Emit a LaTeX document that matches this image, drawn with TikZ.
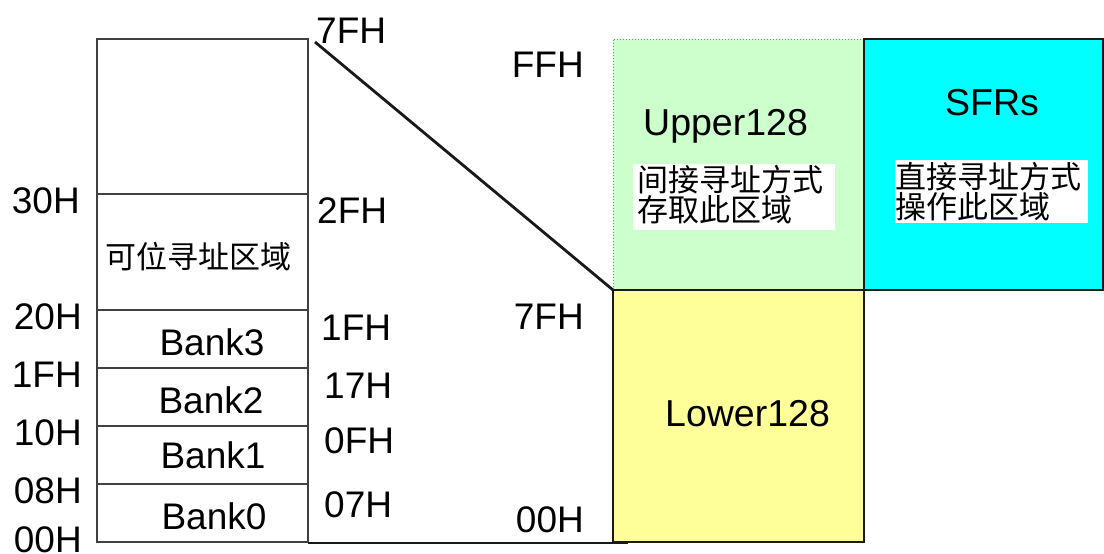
\documentclass[tikz,border=0pt]{standalone}
\usepackage{fontspec}
\setmainfont{Liberation Sans}
\newfontfamily\cjk{Noto Sans CJK SC}
\definecolor{upgreen}{RGB}{204,255,204}
\definecolor{lowyellow}{RGB}{255,255,153}
\definecolor{sfrcyan}{RGB}{0,255,255}
\begin{document}
\begin{tikzpicture}[x=1pt,y=-1pt,
  lbl/.style={font=\fontsize{37}{37}\selectfont, inner sep=0pt},
  big/.style={font=\fontsize{37.5}{37.5}\selectfont, inner sep=0pt},
  cjktxt/.style={font=\cjk\fontsize{31}{30}\selectfont, inner sep=0pt},
  edge/.style={line width=2.8pt, black!90},
  thin/.style={line width=2.3pt, black!75}]
\useasboundingbox (0,0) rectangle (1104,554);
% colored blocks
\fill[upgreen] (613,39) rectangle (864,290);
\fill[lowyellow] (613,290) rectangle (864,542);
\fill[sfrcyan] (864,39) rectangle (1103,290);
\fill[white] (633,164) rectangle (835,230);
\fill[white] (895,160) rectangle (1088,223);
\draw[gray, line width=1pt, dotted] (613,290) -- (613,39) -- (864,39);
\draw[edge] (613,290) rectangle (864,542);
\draw[edge] (864,290) -- (864,39) -- (1103,39) -- (1103,290) -- cycle;
% left box
\draw[thin] (97,39) rectangle (308,542);
\foreach \yy in {194,310,368,426,484} \draw[thin] (97,\yy) -- (308,\yy);
\coordinate (bl) at (308,543);
\coordinate (br) at (628,543);
\draw[edge] (bl) -- (br);
\coordinate (dtop) at (315,42);
\coordinate (dbot) at (613,290);
\draw[edge] (dtop) -- (dbot);
% left labels
\node[lbl, anchor=base east] (l30) at (80,213) {30H};
\node[lbl, anchor=base east] (l20) at (82,329) {20H};
\node[lbl, anchor=base east] (l1f) at (82,387) {1FH};
\node[lbl, anchor=base east] (l10) at (82,445) {10H};
\node[lbl, anchor=base east] (l08) at (82,503) {08H};
\node[lbl, anchor=base east] (l00) at (82,552) {00H};
% right labels
\node[lbl, anchor=base west] (r7f) at (316,43) {7FH};
\node[lbl, anchor=base west] (r2f) at (317,223) {2FH};
\node[lbl, anchor=base west] (r1f) at (321,340) {1FH};
\node[lbl, anchor=base west] (r17) at (324,398) {17H};
\node[lbl, anchor=base west] (r0f) at (324,453) {0FH};
\node[lbl, anchor=base west] (r07) at (324,517) {07H};
% bank labels
\node[cjktxt, anchor=base west] (bit) at (105,268) {可位寻址区域};
\node[lbl, anchor=base] (b3) at (212,355) {Bank3};
\node[lbl, anchor=base] (b2) at (211,413) {Bank2};
\node[lbl, anchor=base] (b1) at (213,468) {Bank1};
\node[lbl, anchor=base] (b0) at (214,529) {Bank0};
% middle labels
\node[lbl, anchor=base east] (mff) at (584,77) {FFH};
\node[lbl, anchor=base east] (m7f) at (584,329) {7FH};
\node[lbl, anchor=base east] (m00) at (584,532) {00H};
% block texts
\node[big, anchor=base west] (up) at (643,135) {Upper128};
\node[cjktxt, anchor=base west] (up1) at (637,191) {间接寻址方式};
\node[cjktxt, anchor=base west] (up2) at (637,221) {存取此区域};
\node[big, anchor=base west] (lo) at (665,426) {Lower128};
\node[big, anchor=base west] (sf) at (945,115) {SFRs};
\node[cjktxt, anchor=base west] (sf1) at (895,188) {直接寻址方式};
\node[cjktxt, anchor=base west] (sf2) at (895,218) {操作此区域};
\end{tikzpicture}
\end{document}
